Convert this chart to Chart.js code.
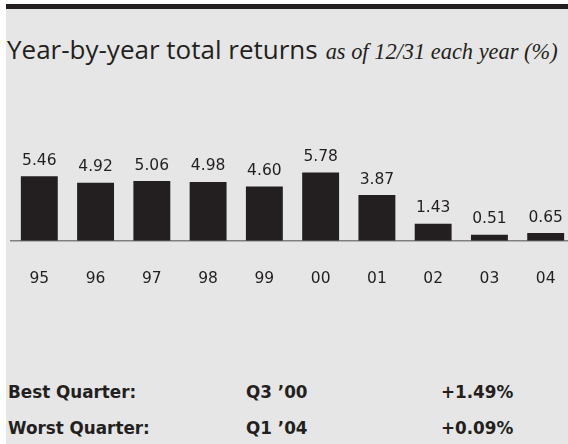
<!DOCTYPE html>
<html>
<head>
<meta charset="utf-8">
<script src="https://cdn.jsdelivr.net/npm/chart.js@4.4.1/dist/chart.umd.min.js"></script>
<style>
  html, body { margin: 0; padding: 0; }
  body { width: 568px; height: 444px; overflow: hidden; position: relative; background: #ffffff; color: #231f20; }
  #panel { position: absolute; left: 6px; top: 4px; right: 0; bottom: 0; background: #e6e6e6; border-top: 5px solid #231f20; }
  #title { position: absolute; left: 7px; top: 36px; white-space: nowrap; line-height: 26px; }
  #title .main { font-family: "Open Sans", sans-serif; font-size: 26px; color: #231f20; }
  #title .sub { font-family: "Liberation Serif", serif; font-style: italic; font-size: 22.4px; color: #231f20; margin-left: 8px; }
  #chart { position: absolute; left: 0; top: 100px; }
  .row { position: absolute; font-family: "DejaVu Sans", sans-serif; font-weight: bold; font-size: 16.8px; line-height: 16.8px; white-space: nowrap; }
</style>
</head>
<body>
<div id="panel"></div>
<div id="title"><span class="main">Year-by-year total returns</span><span class="sub">as of 12/31 each year (%)</span></div>
<canvas id="chart" width="585" height="200"></canvas>
<div id="quarters"></div>
<script>
// 年（x軸）
const years = ['95', '96', '97', '98', '99', '00', '01', '02', '03', '04'];
// 年間リターン（%）
const returns = [5.46, 4.92, 5.06, 4.98, 4.60, 5.78, 3.87, 1.43, 0.51, 0.65];
// ベスト／ワースト四半期
const quarterNames = ['Best Quarter:', 'Worst Quarter:'];
const quarterPeriods = ['Q3 ’00', 'Q1 ’04'];
const quarterReturns = ['+1.49%', '+0.09%'];

const ink = '#231f20';
const labelFont = '15.5px "DejaVu Sans", sans-serif';

// 四半期の表
const quarters = document.getElementById('quarters');
quarterNames.forEach((name, i) => {
    const top = 384 + i * 36;
    [[name, 8], [quarterPeriods[i], 246], [quarterReturns[i], 441]].forEach(([text, left]) => {
        const el = document.createElement('div');
        el.className = 'row';
        el.style.top = top + 'px';
        el.style.left = left + 'px';
        el.textContent = text;
        quarters.appendChild(el);
    });
});

// 棒の上に値を描く
const valueLabels = {
    id: 'valueLabels',
    afterDatasetsDraw(chart) {
        const ctx = chart.ctx;
        const meta = chart.getDatasetMeta(0);
        ctx.save();
        ctx.font = labelFont;
        ctx.fillStyle = ink;
        ctx.textAlign = 'center';
        ctx.textBaseline = 'middle';
        meta.data.forEach((bar, i) => {
            ctx.fillText(returns[i].toFixed(2), bar.x, bar.y - 15.5);
        });
        ctx.restore();
    }
};

const ctx = document.getElementById('chart').getContext('2d');
new Chart(ctx, {
    type: 'bar',
    data: {
        labels: years,
        datasets: [{
            data: returns,
            backgroundColor: ink,
            borderWidth: 0,
            barPercentage: 0.656,
            categoryPercentage: 1
        }]
    },
    plugins: [valueLabels],
    options: {
        responsive: false,
        animation: false,
        layout: { padding: { left: 10, right: 10, top: 64, bottom: 0 } },
        plugins: {
            legend: { display: false },
            tooltip: { enabled: false }
        },
        scales: {
            x: {
                grid: { display: false, drawTicks: false },
                border: { display: true, color: '#808080', width: 1.5 },
                ticks: {
                    padding: 29,
                    color: ink,
                    font: { family: 'DejaVu Sans', size: 15.5 }
                },
                // 軸の高さを固定
                afterFit: (scale) => { scale.height = 59.3; }
            },
            y: {
                display: false,
                min: 0,
                max: 6.5
            }
        }
    }
});
</script>
</body>
</html>
